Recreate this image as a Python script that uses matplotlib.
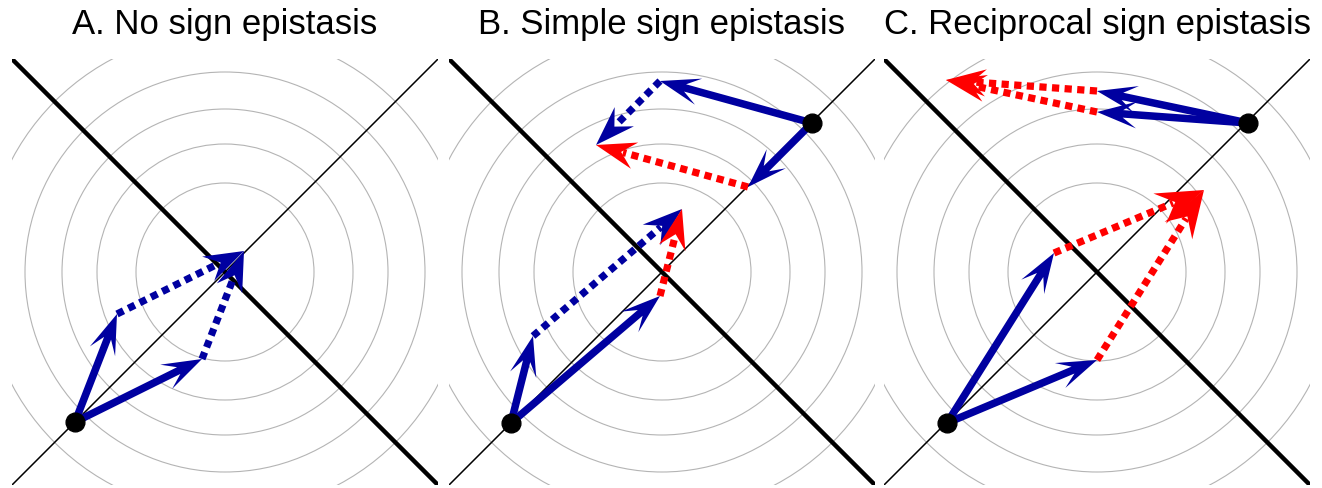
import numpy as np
import matplotlib.pyplot as plt
from matplotlib.patches import Circle

plt.rcParams['font.family'] = ['Liberation Sans', 'DejaVu Sans']

W, H = 1322, 489
BLUE = '#0000a0'
RED = '#ff0000'

titles = ["A. No sign epistasis", "B. Simple sign epistasis",
          "C. Reciprocal sign epistasis"]
panel_centers = [225, 662, 1097]   # pixel centres of the panels
half = 2.13                        # axis half-width, data units

# fitness contour radii
radii = [0.89, 1.28, 1.63, 2.00, 2.41]

# each entry: start genotype, mutation 1, mutation 2, colour of the
# dashed step that adds mut2 after mut1, colour of the step adding mut1 after mut2
paths_A = [((-1.50, -1.50), (0.42, 1.08), (1.27, 0.63), 'b', 'b')]
paths_B = [((-1.51, -1.51), (0.22, 0.87), (1.49, 1.27), 'b', 'r'),
           ((1.50, 1.49), (-1.52, 0.42), (-0.64, -0.64), 'b', 'r')]
paths_C = [((-1.50, -1.51), (1.07, 1.70), (1.50, 0.63), 'r', 'r'),
           ((1.51, 1.49), (-1.51, 0.32), (-1.51, 0.11), 'r', 'r')]
panels = [paths_A, paths_B, paths_C]

cmap = {'b': BLUE, 'r': RED}


def solid_arrow(ax, p, v, col, hl=0.40, hw=0.27):
    ax.arrow(p[0], p[1], v[0], v[1], width=0.075, head_width=hw,
             head_length=hl, overhang=0.35, length_includes_head=True,
             color=col, lw=0, zorder=4)


def dashed_arrow(ax, p, v, col, hl=0.40, hw=0.27):
    p = np.array(p); v = np.array(v)
    L = np.hypot(*v)
    u = v / L
    base = p + v - u * hl * 0.7
    ax.plot([p[0], base[0]], [p[1], base[1]], color=col, lw=5.2,
            dashes=(1.0, 0.75), dash_capstyle='butt', zorder=3)
    s = p + v - u * hl
    ax.arrow(s[0], s[1], u[0] * hl, u[1] * hl, width=0.0, head_width=hw,
             head_length=hl, overhang=0.35, length_includes_head=True,
             color=col, lw=0, zorder=4)


fig = plt.figure(figsize=(W / 100, H / 100), dpi=100)
size = 2 * half * 100
for title, cx, paths in zip(titles, panel_centers, panels):
    ax = fig.add_axes([(cx - size / 2) / W, 3 / H, size / W, size / H])
    ax.set_xlim(-half, half)
    ax.set_ylim(-half, half)
    ax.axis('off')
    for r in radii:
        ax.add_patch(Circle((0, 0), r, fill=False, ec='#b4b4b4', lw=0.8,
                            zorder=1))
    ax.plot([-half, half], [half, -half], color='k', lw=3.2,
            solid_capstyle='round', zorder=2)
    ax.plot([-half, half], [-half, half], color='k', lw=1.1, zorder=2)
    for start, m1, m2, c12, c21 in paths:
        s = np.array(start); m1 = np.array(m1); m2 = np.array(m2)
        solid_arrow(ax, s, m1, BLUE)
        solid_arrow(ax, s, m2, BLUE)
        big = c12 == 'r' and c21 == 'r' and s[1] < 0
        hl = 0.48 if big else 0.40
        dashed_arrow(ax, s + m1, m2, cmap[c12], hl=hl, hw=hl * 0.68)
        dashed_arrow(ax, s + m2, m1, cmap[c21], hl=hl, hw=hl * 0.68)
        ax.plot(s[0], s[1], 'o', color='k', ms=13.5, zorder=6)
    fig.text(cx / W, 1 - 34 / H, title, ha='center', va='baseline',
             fontsize=25)

fig.savefig('out.png', dpi=100)
